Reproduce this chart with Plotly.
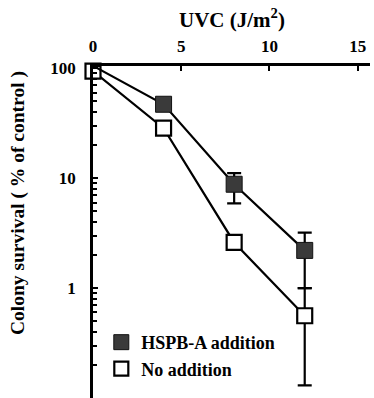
import plotly.graph_objects as go

dose = [0, 4, 8, 12]
hspb = [105, 47, 8.8, 2.2]
hspb_err_plus = [0, 0, 2.3, 1.0]
hspb_err_minus = [0, 0, 2.9, 1.2]
noadd = [94, 28.5, 2.6, 0.56]
noadd_err_plus = [0, 0, 0, 0.44]
noadd_err_minus = [0, 0, 0, 0.43]
xticks = [0, 5, 10, 15]
yticks = [1, 10, 100]
names = ["HSPB-A addition", "No addition"]

serif = "Liberation Serif"
open_marker = dict(symbol="square", size=15, color="white", line=dict(color="black", width=2.2))
filled_marker = dict(symbol="square", size=16, color="#3a3a3a", line=dict(color="#111", width=1))

fig = go.Figure()
fig.add_trace(go.Scatter(
    x=dose, y=noadd, mode="lines+markers", name=names[1], showlegend=False,
    line=dict(color="black", width=2.2), marker=open_marker,
    error_y=dict(type="data", array=noadd_err_plus, arrayminus=noadd_err_minus,
                 color="black", thickness=2.2, width=7),
    cliponaxis=False,
))
fig.add_trace(go.Scatter(
    x=dose, y=hspb, mode="lines+markers", name=names[0], showlegend=False,
    line=dict(color="black", width=2.2), marker=filled_marker,
    error_y=dict(type="data", array=hspb_err_plus, arrayminus=hspb_err_minus,
                 color="black", thickness=2.2, width=7),
    cliponaxis=False,
))
# legend entries (markers only, as in the original key)
fig.add_trace(go.Scatter(x=[None], y=[None], mode="markers", name=names[0],
                         marker=dict(symbol="square", size=15, color="#3a3a3a",
                                     line=dict(color="#111", width=1))))
fig.add_trace(go.Scatter(x=[None], y=[None], mode="markers", name=names[1],
                         marker=dict(symbol="square", size=14, color="white",
                                     line=dict(color="black", width=2.2))))

fig.update_layout(
    width=374, height=398,
    margin=dict(l=93, r=4, t=66, b=0),
    paper_bgcolor="white", plot_bgcolor="white",
    font=dict(family=serif, color="black", size=16),
    showlegend=True,
    legend=dict(x=0.03, y=0.223, xanchor="left", yanchor="top",
                bgcolor="rgba(0,0,0,0)",
                font=dict(family=serif, size=18, weight="bold"),
                itemwidth=30),
    xaxis=dict(
        side="top", range=[0, 15.7], tickvals=xticks,
        ticktext=[str(v) for v in xticks],
        ticks="inside", ticklen=5, tickwidth=2, tickcolor="black",
        showline=True, linecolor="black", linewidth=2.5,
        showgrid=False, zeroline=False, automargin=False,
        ticklabelstandoff=4,
        tickfont=dict(family=serif, size=17, weight="bold"),
    ),
    yaxis=dict(
        type="log", range=[-1.0, 2.02], tickvals=yticks,
        ticktext=[str(v) for v in yticks],
        ticks="inside", ticklen=5, tickwidth=2, tickcolor="black",
        showline=True, linecolor="black", linewidth=2.5,
        showgrid=False, zeroline=False, automargin=False,
        ticklabelstandoff=11,
        tickfont=dict(family=serif, size=17, weight="bold"),
        minor=dict(ticks="inside", ticklen=4, tickwidth=1.5, tickcolor="black",
                   showgrid=False, dtick="D1"),
    ),
    annotations=[
        dict(text="UVC (J/m<sup>2</sup>)",
             xref="paper", yref="paper", x=0.5, y=1.142,
             xanchor="center", yanchor="middle", showarrow=False,
             font=dict(family=serif, size=21, weight="bold")),
        dict(text="Colony survival ( % of control )", textangle=-90,
             xref="paper", yref="paper", x=-0.271, y=0.587,
             xanchor="center", yanchor="middle", showarrow=False,
             font=dict(family=serif, size=19.5, weight="bold")),
    ],
)

fig.write_html(
    "out.html",
    config={"displayModeBar": False},
    post_script="document.body.style.margin='0';document.body.style.overflow='hidden';",
)
